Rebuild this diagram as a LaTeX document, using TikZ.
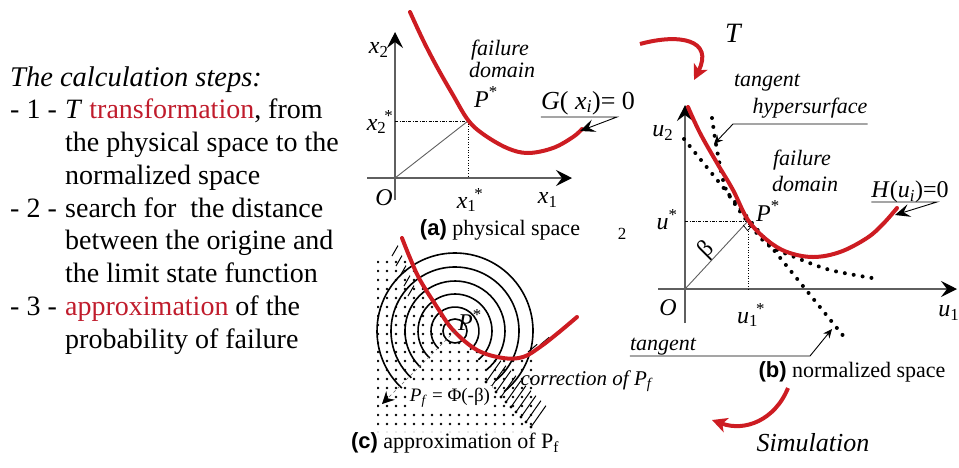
\documentclass[tikz,border=0pt]{standalone}
\usepackage{fontspec}
\setmainfont{Liberation Serif}
\setsansfont{Liberation Sans}
\usetikzlibrary{arrows.meta}
\definecolor{curvered}{RGB}{205,28,34}
\definecolor{textred}{RGB}{192,28,44}
\definecolor{axisgray}{RGB}{95,95,95}
\newcommand{\fsz}[1]{\fontsize{#1}{#1}\selectfont}
\newcommand{\varst}[3]{\textit{#1}\textsubscript{#2}\hspace{-2pt}\textsuperscript{#3}}
\newcommand{\plab}[1]{{\sffamily\bfseries(#1)}}
\tikzset{
  axisline/.style={axisgray, line width=1.3pt, -{Stealth[length=16pt, width=16pt, inset=6pt, color=black]}},
  redline/.style={curvered, line width=4pt, line cap=round},
  redarrow/.style={curvered, line width=4pt, -{Stealth[length=15pt, width=15pt, inset=4pt]}},
  dashdot/.style={black, line width=0.7pt, dash pattern=on 3pt off 1.5pt on 0.7pt off 1.5pt},
  dotline/.style={black, line width=0.7pt, dash pattern=on 0.8pt off 1.8pt},
  radline/.style={axisgray, line width=0.9pt},
  bigdots/.style={black, line width=4pt, line cap=round, dash pattern=on 0pt off 9pt},
  leader/.style={black, line width=0.9pt},
  bigleader/.style={leader, -{Stealth[length=15pt, width=13pt, inset=6pt]}},
  smallleader/.style={leader, -{Stealth[length=9pt, width=8pt, inset=3pt]}},
  ring/.style={black, line width=1.6pt},
  hatch/.style={black, line width=1pt},
  varlbl/.style={font=\fsz{24}, inner sep=0pt},
  notelbl/.style={font=\fsz{22}\itshape, inner sep=0pt},
  captlbl/.style={font=\fsz{22}, inner sep=0pt},
  stepline/.style={font=\fontsize{28}{32}\selectfont, anchor=base west, inner sep=0pt}
}

\begin{document}
\begin{tikzpicture}[x=1pt, y=-1pt]
\useasboundingbox (0,0) rectangle (959,467);

% the calculation steps
\node[stepline, font=\fsz{28.5}\itshape] (l0) at (10,86) {The calculation steps:};
\node[stepline] (l1) at (10,118.75) {\makebox[55pt][l]{- 1 -}\textit{T} \textcolor{textred}{transformation}, from};
\node[stepline] (l2) at (65,151.5) {the physical space to the};
\node[stepline] (l3) at (65,184.25) {normalized space};
\node[stepline] (l4) at (10,217) {\makebox[55pt][l]{- 2 -}search for\ \ the distance};
\node[stepline] (l5) at (65,249.75) {between the origine and};
\node[stepline] (l6) at (65,282.5) {the limit state function};
\node[stepline] (l7) at (10,315.25) {\makebox[55pt][l]{- 3 -}\textcolor{textred}{approximation} of the};
\node[stepline] (l8) at (65,348) {probability of failure};

% (a) physical space
\coordinate (Oa) at (395,178);
\coordinate (Pa) at (468,121);
\coordinate (xa0) at (367,178);
\coordinate (xa1) at (572,178);
\coordinate (ya0) at (395,200);
\coordinate (ya1) at (395,32);
\draw[axisline] (xa0) -- (xa1);
\draw[axisline] (ya0) -- (ya1);
\draw[dashdot] (Oa |- Pa) -- (Pa);
\draw[dotline] (Pa) -- (Pa |- Oa);
\draw[radline] (Oa) -- (Pa);
\draw[redline] plot[smooth, tension=0.6] coordinates {(410,12) (423,40) (437,67) (453,95) (468,120) (483,134) (507,148) (528,153) (553,148) (573,137) (582,129)};
\node[varlbl] (x2) at (378,50) {\varst{x}{2}{}};
\node[varlbl] (x2s) at (380,122) {\varst{x}{2}{*}};
\node[varlbl] (oa) at (384,198) {\textit{O}};
\node[varlbl] (x1s) at (470,200) {\varst{x}{1}{*}};
\node[varlbl] (x1) at (547,200) {\varst{x}{1}{}};
\node[varlbl] (pa) at (486,97) {\textit{P}\textsuperscript{*}};
\node[notelbl] (fa1) at (500,50) {failure};
\node[notelbl] (fa2) at (502,70) {domain};
\node[varlbl, font=\fsz{26}] (glab) at (588,103) {\textit{G}( \textit{x}\textsubscript{\textit{i}})= 0};
\coordinate (gk) at (617,117);
\coordinate (gt) at (580,131);
\draw[bigleader] (glab.south west |- gk) -- (gk) -- (gt);
\node[captlbl] (capa) at (500,230) {\plab{a} physical space};
\node[captlbl, font=\fsz{17}] (two) at (622,234) {2};

% T transformation
\coordinate (ts) at (640,44);
\coordinate (te) at (694,80);
\draw[redarrow] (ts) .. controls (680,33) and (714,40) .. (te);
\node[varlbl, font=\fsz{28}\itshape] (tlab) at (733,33) {T};

% (b) normalized space
\coordinate (Ob) at (685,289);
\coordinate (Pb) at (748,221);
\coordinate (xb0) at (658,289);
\coordinate (xb1) at (957,289);
\coordinate (yb0) at (685,323);
\coordinate (yb1) at (685,105);
\draw[axisline] (xb0) -- (xb1);
\draw[axisline] (yb0) -- (yb1);
\draw[dashdot] (Ob |- Pb) -- (Pb);
\draw[dotline] (Pb) -- (Pb |- Ob);
\draw[radline] (Ob) -- (Pb);
\draw[leader, line width=0.7pt] (752.4,225.4) -- (747.6,230.5) -- (743.2,225.1);
\coordinate (tg0) at (684,139);
\coordinate (tg1) at (845,338);
\draw[bigdots] (tg0) -- (tg1);
\draw[bigdots] plot[smooth] coordinates {(712,118) (717,150) (725,187) (737,207) (748,222) (768,245) (797,258) (830,270) (872,278)};
\draw[redline] plot[smooth, tension=0.6] coordinates {(688,107) (700,133) (717,163) (733,190) (748,220) (767,240) (787,252) (813,257) (840,252) (867,238) (883,224) (897,208)};
\node[varlbl] (u2) at (662,133) {\varst{u}{2}{}};
\node[varlbl] (us) at (667,220) {\textit{u}\textsuperscript{*}};
\node[varlbl] (ob) at (668,308) {\textit{O}};
\node[varlbl] (u1s) at (751,315) {\varst{u}{1}{*}};
\node[varlbl] (u1) at (948,313) {\varst{u}{1}{}};
\node[varlbl, rotate=45] (beta) at (707,250) {β};
\node[varlbl] (pb) at (768,211) {\textit{P}\textsuperscript{*}};
\node[notelbl] (fb1) at (802,160) {failure};
\node[notelbl] (fb2) at (805,184) {domain};
\node[notelbl] (tan1) at (767,83) {tangent};
\node[notelbl] (tan2) at (810,108) {hypersurface};
\coordinate (hk) at (733,124);
\coordinate (ht) at (714,144);
\draw[smallleader] (tan2.south east |- hk) -- (hk) -- (ht);
\node[varlbl] (hlab) at (910,192) {\textit{H}(\textit{u}\textsubscript{\textit{i}})=0};
\coordinate (hhk) at (937,202);
\coordinate (hht) at (895,215);
\draw[bigleader] (hlab.south west |- hhk) -- (hhk) -- (hht);
\node[notelbl] (tan3) at (663,347) {tangent};
\coordinate (tk) at (810,356);
\coordinate (tt) at (832,329);
\draw[smallleader] (tan3.south west |- tk) -- (tk) -- (tt);
\node[captlbl] (capb) at (852,372) {\plab{b} normalized space};

% simulation
\coordinate (ss) at (788,388);
\coordinate (se) at (712,420);
\draw[redarrow] (ss) .. controls (775,420) and (745,432) .. (se);
\node[varlbl, font=\fsz{26}\itshape] (slab) at (813,443) {Simulation};

% (c) approximation of Pf
\coordinate (C) at (455,331);
\begin{scope}
  \clip (377,258) -- (409,258) -- plot[smooth] coordinates {(409,258) (420,280) (437,307) (453,330) (477,350) (503,358) (523,357)} -- (537,357) -- (537,432) -- (377,432) -- cycle;
  \foreach \i in {0,...,18} {
    \foreach \j in {0,...,19} {
      \fill (378+9*\i, 262+9*\j) circle[radius=1.3pt];
    }
  }
\end{scope}
\draw[ring] (C) circle[radius=12pt];
\foreach \r in {24,37,50,64,78}
  \draw[ring] (C) ++(-51:\r pt) arc[start angle=-51, end angle=227, radius=\r pt];
\foreach \k in {0,...,9} {
  \fill (486+5*\k, 382+5*\k) circle[radius=1.6pt];
  \draw[hatch] (486+5*\k, 382+5*\k) -- ++(55:26pt);
}
\foreach \k in {0,...,4}
  \draw[hatch] (392+4*\k, 256+10*\k) -- ++(60:12pt);
\foreach \k in {0,...,2}
  \draw[hatch] (528+12*\k, 352-7*\k) -- ++(40:12pt);
\draw[redline] plot[smooth, tension=0.6] coordinates {(402,238) (410,258) (420,280) (437,307) (453,330) (477,350) (503,358) (523,357) (540,347) (558,333) (577,317)};
\node[varlbl] (pc) at (470,320) {\textit{P}\textsuperscript{*}};
\node[captlbl, font=\fsz{19}, fill=white, inner sep=2pt] (pf) at (450,398) {\textit{P}\textsubscript{\textit{f}} = Φ(-β)};
\coordinate (pfa) at (382,404);
\draw[axisgray, line width=0.6pt, dashed, -{Stealth[length=12pt, width=12pt, inset=4pt, color=black]}] (C) -- (pfa);
\node[notelbl, font=\fsz{21}\itshape] (corr) at (586,381) {correction of P\textsubscript{f}};
\node[captlbl] (capc) at (455,443) {\plab{c} approximation of P\textsubscript{f}};
\end{tikzpicture}
\end{document}
